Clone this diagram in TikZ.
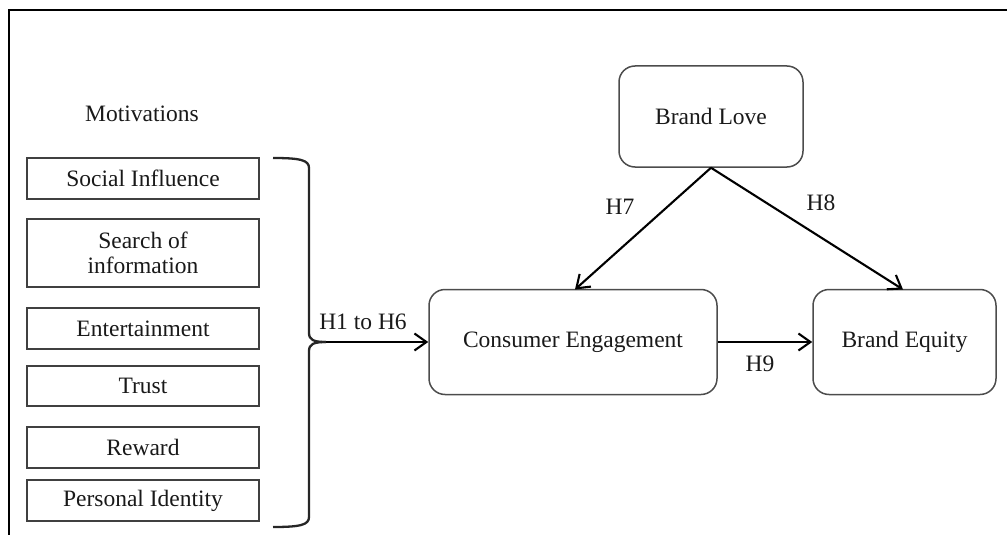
\documentclass[tikz,border=0pt]{standalone}
\usepackage{fontspec}
\setmainfont{Liberation Serif}
\usetikzlibrary{arrows.meta}

\tikzset{
  frameline/.style={line width=2.8pt, black},
  motbox/.style={draw=black!75, line width=1.4pt, minimum width=232pt, inner sep=0pt,
                 align=center, font=\fontsize{23.5}{25}\selectfont, text=black!90},
  roundbox/.style={draw=black!70, line width=1.5pt, rounded corners=16pt, inner sep=0pt,
                   font=\fontsize{23.5}{25}\selectfont, text=black!90},
  link/.style={line width=2.1pt, -{Straight Barb[length=12pt,width=17pt,line width=2.1pt]}},
  hyp/.style={font=\fontsize{23.5}{25}\selectfont, text=black!90},
  bracket/.style={line width=2.3pt, black!85}
}

\begin{document}
\begin{tikzpicture}[x=1pt, y=-1pt]
  \useasboundingbox (0,0) rectangle (1007,535);

  % open frame: left and top edges
  \draw[frameline] (9,535) -- (9,10) -- (1007,10);

  % motivation factors
  \node[hyp] (mot) at (142,114) {Motivations};
  \node[motbox, minimum height=41pt] (si)  at (143,178.5) {Social Influence};
  \node[motbox, minimum height=68pt] (soi) at (143,253)   {Search of\\information};
  \node[motbox, minimum height=41pt] (ent) at (143,328.5) {Entertainment};
  \node[motbox, minimum height=40pt] (tru) at (143,386)   {Trust};
  \node[motbox, minimum height=41pt] (rew) at (143,447.5) {Reward};
  \node[motbox, minimum height=41pt] (pid) at (143,500.5) {Personal Identity};

  % constructs
  \node[roundbox, minimum width=288pt, minimum height=105pt] (ce) at (573,342) {Consumer Engagement};
  \node[roundbox, minimum width=183pt, minimum height=105pt] (be) at (904.5,342) {Brand Equity};
  \node[roundbox, minimum width=184pt, minimum height=101pt] (bl) at (711,116.5) {Brand Love};

  % brace grouping the motivations
  \coordinate (cusp) at (326,342);
  \draw[bracket] (273,158) .. controls (300,158) and (309,160) .. (309,168)
                 -- (309,333) .. controls (309,340) and (314,342) .. (cusp);
  \draw[bracket] (cusp) .. controls (314,342) and (309,344) .. (309,351)
                 -- (309,517) .. controls (309,525) and (300,527) .. (273,527);

  % hypothesised paths
  \coordinate (ceTop) at (575,289.5);
  \coordinate (beTop) at (903,289.5);
  \draw[link] (cusp) -- (ce.west);
  \draw[link] (bl.south) -- (ceTop);
  \draw[link] (bl.south) -- (beTop);
  \draw[link] (ce.east) -- (be.west);

  % hypothesis labels
  \node[hyp] (h16) at (363,322) {H1 to H6};
  \node[hyp] (h7)  at (620,207) {H7};
  \node[hyp] (h8)  at (821,203) {H8};
  \node[hyp] (h9)  at (760,364) {H9};
\end{tikzpicture}
\end{document}
